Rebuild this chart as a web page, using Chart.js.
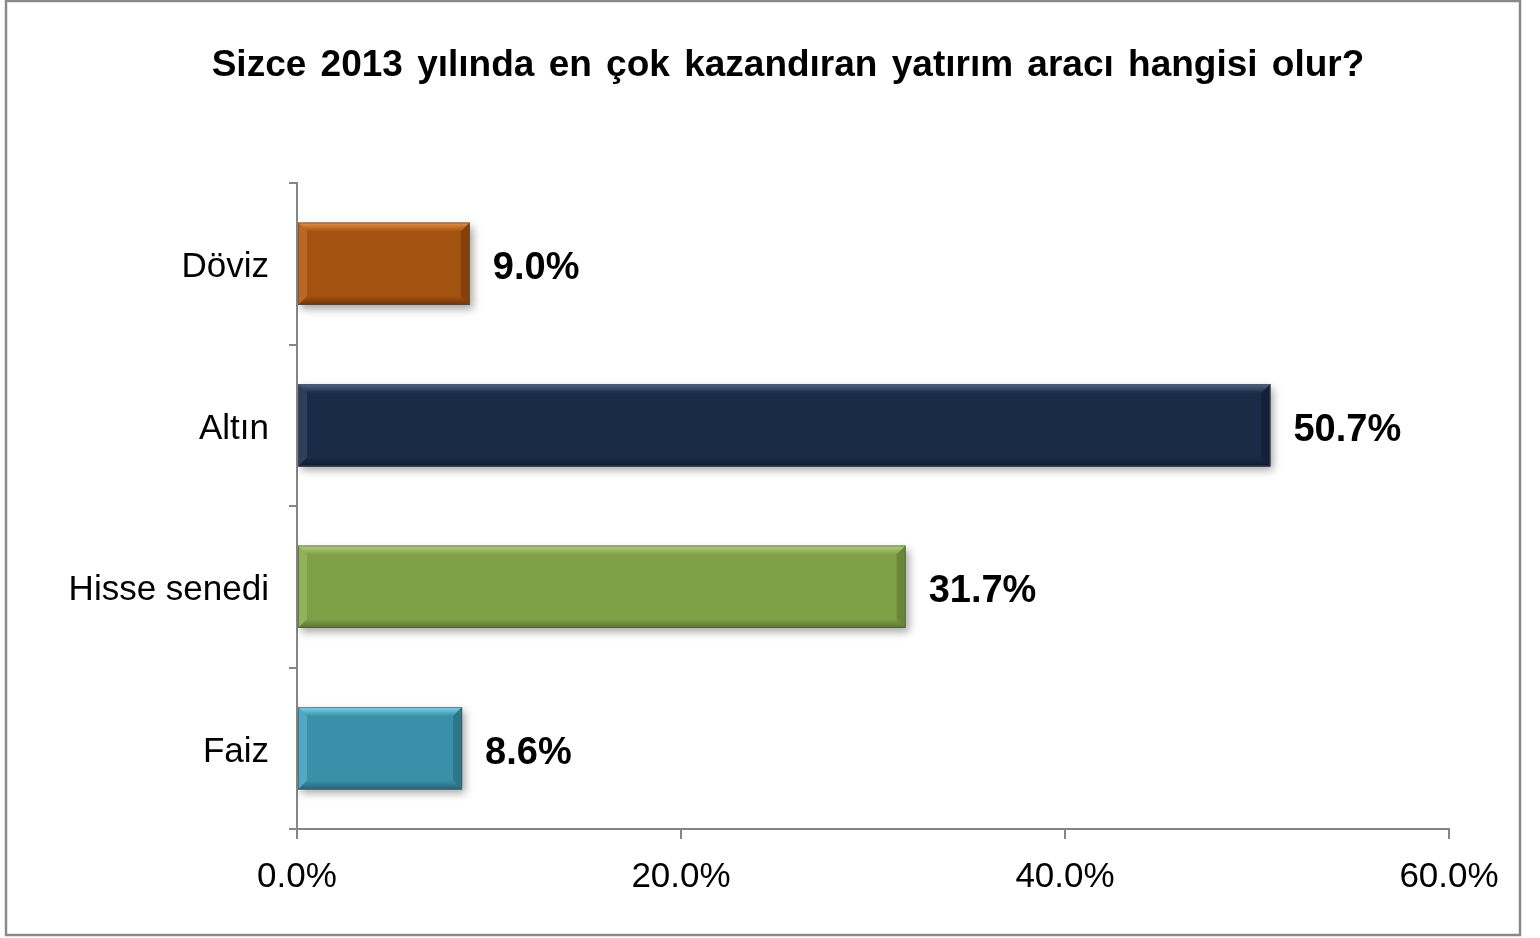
<!DOCTYPE html>
<html>
<head>
<meta charset="utf-8">
<script src="https://cdn.jsdelivr.net/npm/chart.js@4"></script>
<style>
  html, body { margin: 0; padding: 0; background: #fff; }
  #wrap { width: 1540px; height: 938px; }
</style>
</head>
<body>
<div id="wrap"><canvas id="grafico" width="1540" height="938"></canvas></div>
<script>
const titulo = 'Sizce 2013 yılında en çok kazandıran yatırım aracı hangisi olur?';
const categorias = ['Döviz', 'Altın', 'Hisse senedi', 'Faiz'];
const valores = [9.0, 50.7, 31.7, 8.6];
const coresBase = ['#A4520F', '#1A2B47', '#80A048', '#3A90A9'];
const coresClaras = ['#E8924A', '#4F6688', '#B4D07E', '#7FD6F0'];
const coresEscuras = ['#6E3508', '#0F1A2E', '#5A7530', '#246578'];
const ticksX = [0, 20, 40, 60];

const fonte = '"Liberation Sans", Arial, sans-serif';

// fundo, borda e titulo
const molduraPlugin = {
  id: 'moldura',
  beforeDraw(chart) {
    const ctx = chart.ctx;
    ctx.save();
    ctx.fillStyle = '#fff';
    ctx.fillRect(0, 0, chart.width, chart.height);
    ctx.strokeStyle = '#8a8a8a';
    ctx.lineWidth = 2.5;
    ctx.strokeRect(6, 1, 1514, 934);
    ctx.fillStyle = '#000';
    ctx.font = 'bold 37px ' + fonte;
    ctx.wordSpacing = '4px';
    ctx.textAlign = 'center';
    ctx.textBaseline = 'alphabetic';
    ctx.fillText(titulo, 788, 76);
    ctx.restore();
  }
};

// sombra das barras
const sombraPlugin = {
  id: 'sombra',
  beforeDatasetsDraw(chart) {
    const ctx = chart.ctx;
    ctx.save();
    ctx.shadowColor = 'rgba(0,0,0,0.35)';
    ctx.shadowBlur = 8;
    ctx.shadowOffsetX = 3;
    ctx.shadowOffsetY = 4;
  },
  afterDatasetsDraw(chart) {
    chart.ctx.restore();
  }
};

// efeito de chanfro + rotulos
const chanfroPlugin = {
  id: 'chanfro',
  afterDatasetsDraw(chart) {
    const ctx = chart.ctx;
    const meta = chart.getDatasetMeta(0);
    meta.data.forEach((bar, i) => {
      const x0 = bar.base, x1 = bar.x;
      const y0 = bar.y - bar.height / 2, y1 = bar.y + bar.height / 2;
      const b = 9;
      ctx.save();
      // topo claro
      let g = ctx.createLinearGradient(0, y0, 0, y0 + b);
      g.addColorStop(0, coresClaras[i]);
      g.addColorStop(1, coresBase[i]);
      ctx.fillStyle = g;
      ctx.beginPath();
      ctx.moveTo(x0, y0); ctx.lineTo(x1, y0); ctx.lineTo(x1 - b, y0 + b); ctx.lineTo(x0 + b, y0 + b);
      ctx.closePath(); ctx.fill();
      // base escura
      g = ctx.createLinearGradient(0, y1 - b, 0, y1);
      g.addColorStop(0, coresBase[i]);
      g.addColorStop(1, coresEscuras[i]);
      ctx.fillStyle = g;
      ctx.beginPath();
      ctx.moveTo(x0, y1); ctx.lineTo(x1, y1); ctx.lineTo(x1 - b, y1 - b); ctx.lineTo(x0 + b, y1 - b);
      ctx.closePath(); ctx.fill();
      // lado esquerdo
      ctx.globalAlpha = 0.35;
      ctx.fillStyle = coresClaras[i];
      ctx.beginPath();
      ctx.moveTo(x0, y0); ctx.lineTo(x0 + b, y0 + b); ctx.lineTo(x0 + b, y1 - b); ctx.lineTo(x0, y1);
      ctx.closePath(); ctx.fill();
      // lado direito
      ctx.globalAlpha = 0.6;
      ctx.fillStyle = coresEscuras[i];
      ctx.beginPath();
      ctx.moveTo(x1, y0); ctx.lineTo(x1 - b, y0 + b); ctx.lineTo(x1 - b, y1 - b); ctx.lineTo(x1, y1);
      ctx.closePath(); ctx.fill();
      ctx.globalAlpha = 1;
      ctx.strokeStyle = 'rgba(80,80,80,0.6)';
      ctx.lineWidth = 1;
      ctx.strokeRect(x0 + 0.5, y0 + 0.5, x1 - x0 - 1, y1 - y0 - 1);
      // rotulo
      ctx.fillStyle = '#000';
      ctx.font = 'bold 38px ' + fonte;
      ctx.textAlign = 'left';
      ctx.textBaseline = 'middle';
      ctx.fillText(valores[i].toFixed(1) + '%', x1 + 23, bar.y + 5);
      ctx.restore();
    });
  }
};

new Chart(document.getElementById('grafico'), {
  type: 'bar',
  data: {
    labels: categorias,
    datasets: [{
      data: valores,
      backgroundColor: coresBase,
      borderWidth: 0,
      categoryPercentage: 1,
      barPercentage: 0.51
    }]
  },
  options: {
    indexAxis: 'y',
    responsive: false,
    animation: false,
    layout: { padding: { top: 183, right: 91, left: 0, bottom: 0 } },
    plugins: {
      legend: { display: false },
      tooltip: { enabled: false }
    },
    scales: {
      y: {
        type: 'category',
        offset: true,
        grid: {
          offset: true,
          drawOnChartArea: false,
          color: '#868686',
          lineWidth: 2,
          tickLength: 8
        },
        border: { color: '#868686', width: 2 },
        ticks: {
          color: '#000',
          font: { family: fonte, size: 35 },
          padding: 20,
          labelOffset: 4
        },
        afterFit: s => { s.width = 297; }
      },
      x: {
        min: 0,
        max: 60,
        afterBuildTicks: s => { s.ticks = ticksX.map(v => ({ value: v })); },
        grid: {
          drawOnChartArea: false,
          color: '#868686',
          lineWidth: 2,
          tickLength: 10
        },
        border: { color: '#868686', width: 2 },
        ticks: {
          color: '#000',
          font: { family: fonte, size: 35 },
          padding: 17,
          maxRotation: 0,
          callback: v => v.toFixed(1) + '%'
        },
        afterFit: s => { s.height = 109; }
      }
    }
  },
  plugins: [molduraPlugin, sombraPlugin, chanfroPlugin]
});
</script>
</body>
</html>
